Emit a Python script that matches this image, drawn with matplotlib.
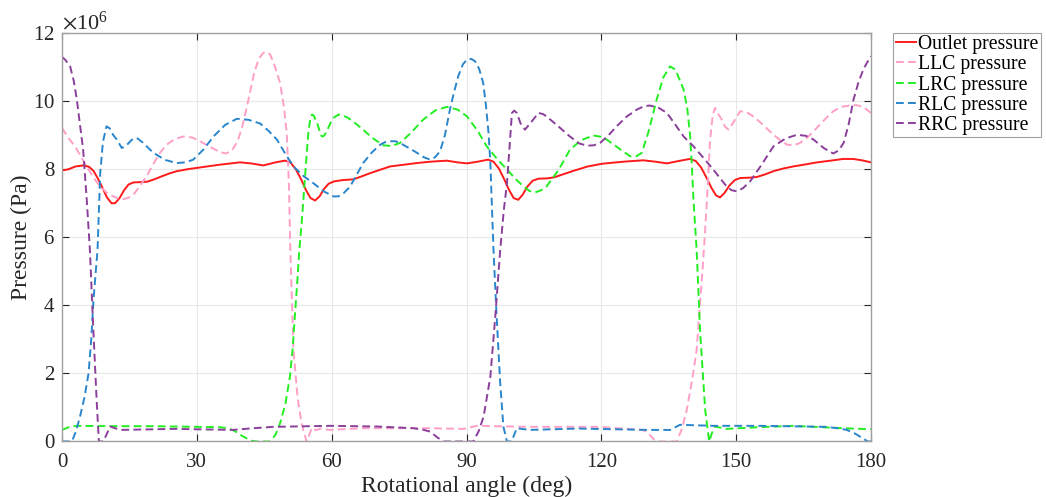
import matplotlib
matplotlib.use('Agg')
import matplotlib.pyplot as plt
from matplotlib.ticker import ScalarFormatter

plt.rcParams['font.family'] = ['Liberation Serif', 'DejaVu Serif']
plt.rcParams['mathtext.fontset'] = 'stix'

# pressure curves, angle in deg, pressure in MPa (scaled to Pa below)
outlet_deg = [0, 1.5, 3, 4.7, 6, 7, 8, 9, 10, 11, 11.8, 12.8, 13.8, 14.8, 15.9, 17.5, 18.9, 20.5, 22,
              23.8, 25.5, 28, 30.7, 35, 39.6, 42, 44.8, 47.5, 49.6, 50.8, 52, 53.2, 54.3, 55.3, 56.3,
              57.3, 58.3, 59.3, 60.5, 62.5, 64.8, 66.5, 68.5, 70.5, 73, 76, 79, 82, 85.6, 88, 90.1,
              92.5, 94.8, 96, 97.2, 98.4, 99.5, 100.5, 101.5, 102.5, 103.5, 104.7, 106, 108, 109.5,
              111.5, 114, 117, 120.2, 125, 129.3, 132, 134.6, 137.2, 139.7, 141, 142.2, 143.4, 144.5,
              145.5, 146.4, 147.4, 148.5, 149.7, 150.9, 153, 154.6, 156.5, 158.5, 160.5, 162.7, 165,
              168, 171, 173.8, 176, 178, 180]
outlet_p = [7.96, 8.0, 8.08, 8.11, 8.07, 7.95, 7.72, 7.45, 7.17, 7.0, 7.0, 7.15, 7.38, 7.55, 7.61, 7.62,
            7.63, 7.7, 7.78, 7.87, 7.94, 8.0, 8.05, 8.13, 8.2, 8.17, 8.11, 8.2, 8.25, 8.2, 8.0, 7.7, 7.38,
            7.15, 7.08, 7.2, 7.42, 7.57, 7.64, 7.68, 7.7, 7.78, 7.88, 7.97, 8.08, 8.13, 8.18, 8.22, 8.25,
            8.2, 8.17, 8.22, 8.28, 8.22, 8.02, 7.7, 7.38, 7.15, 7.1, 7.25, 7.48, 7.66, 7.72, 7.73, 7.76,
            7.85, 7.96, 8.08, 8.16, 8.22, 8.26, 8.22, 8.17, 8.24, 8.3, 8.24, 8.05, 7.75, 7.45, 7.23,
            7.17, 7.3, 7.52, 7.68, 7.74, 7.75, 7.77, 7.85, 7.95, 8.02, 8.08, 8.13, 8.2, 8.25, 8.3, 8.3,
            8.26, 8.2]

llc_deg = [0, 1.5, 2.9, 4.2, 5.5, 7, 8.5, 10, 11.4, 12.5, 13.6, 14.8, 15.9, 17.3, 18.8, 20.3, 21.8,
           23.3, 25, 27, 29, 30.7, 33, 35.2, 36.5, 37.8, 39, 40, 41, 41.8, 42.8, 43.8, 44.8, 45.6,
           46.3, 47.3, 48.5, 49.3, 50, 50.5, 50.8, 51.5, 52.4, 53.3, 54.4, 55.6, 56.5, 57.5, 59.6, 67,
           81.5, 89.3, 92.3, 104, 119, 129.3, 130.7, 131.8, 132.7, 136.8, 138, 139, 140.2, 141.2,
           142.3, 143, 143.5, 144.2, 144.8, 145.3, 146, 146.8, 147.5, 148.3, 149.5, 150.9, 152.3,
           153.8, 155.6, 157.5, 159.5, 161.3, 162.8, 164.2, 166, 167.9, 169.8, 171.6, 173.4, 175.3,
           176.8, 178.3, 180]
llc_p = [9.21, 8.9, 8.67, 8.37, 8.08, 7.75, 7.49, 7.3, 7.2, 7.14, 7.12, 7.16, 7.25, 7.5, 7.79, 8.15,
         8.48, 8.72, 8.88, 8.96, 8.93, 8.82, 8.65, 8.5, 8.46, 8.55, 8.8, 9.2, 9.75, 10.24, 10.85, 11.25,
         11.42, 11.44, 11.37, 11.05, 10.54, 9.9, 9.06, 7.5, 5.6, 2.69, 1.3, 0.53, 0.0, 0.4, 0.33, 0.38,
         0.34, 0.39, 0.39, 0.37, 0.46, 0.43, 0.43, 0.34, 0.2, 0.05, 0.0, 0.0, 0.4, 0.93, 1.8, 2.69,
         4.65, 6.0, 7.1, 8.87, 9.6, 9.8, 9.62, 9.46, 9.25, 9.16, 9.4, 9.7, 9.68, 9.55, 9.35, 9.11,
         8.88, 8.72, 8.7, 8.77, 8.95, 9.21, 9.47, 9.7, 9.83, 9.87, 9.88, 9.83, 9.65]

lrc_deg = [0, 1.5, 3.3, 10, 20, 30, 35, 37, 38.5, 40, 41.1, 42.2, 43.3, 46.3, 47.5, 48.5, 49.7, 50.7,
           51.3, 51.8, 52.3, 52.8, 53.3, 53.7, 54.3, 54.8, 55.2, 55.6, 56, 56.4, 56.9, 57.4, 57.8,
           58.3, 58.9, 59.7, 60.5, 61.5, 62.5, 63.7, 64.8, 66, 67, 69, 71.5, 73.3, 75.2, 77.5, 80.4,
           83, 85.6, 88, 90.1, 92.5, 94.5, 96.8, 99, 101, 102.7, 104, 105.3, 106.6, 107.8, 110.5, 113,
           115.5, 118.2, 120, 121.2, 123.8, 126.4, 127.8, 129, 130.5, 132.3, 133.8, 135.3, 136.5,
           137.5, 138.3, 139.1, 139.7, 140.1, 140.5, 141.2, 142, 143.1, 144, 144.6, 145.3, 147.9, 155,
           162.7, 173.8, 180]
lrc_p = [0.34, 0.42, 0.46, 0.45, 0.45, 0.43, 0.42, 0.39, 0.3, 0.17, 0.09, 0.02, 0.0, 0.0, 0.2, 0.53,
         1.1, 1.9, 2.7, 3.67, 4.6, 5.63, 6.4, 7.1, 8.2, 9.06, 9.45, 9.6, 9.58, 9.45, 9.3, 9.08, 8.96,
         8.98, 9.11, 9.35, 9.52, 9.6, 9.58, 9.5, 9.4, 9.27, 9.16, 8.92, 8.7, 8.68, 8.77, 9.05, 9.46,
         9.72, 9.83, 9.75, 9.55, 9.12, 8.67, 8.3, 7.99, 7.7, 7.49, 7.36, 7.32, 7.38, 7.49, 7.98, 8.57,
         8.85, 8.99, 8.95, 8.87, 8.62, 8.38, 8.38, 8.48, 9.1, 10.04, 10.7, 11.02, 10.92, 10.6, 10.34,
         9.8, 9.06, 8.2, 7.1, 5.63, 3.18, 0.93, 0.0, 0.25, 0.44, 0.37, 0.42, 0.46, 0.39, 0.36]

rlc_deg = [0, 2.2, 3.1, 4, 5, 5.9, 6.5, 7, 7.9, 8.5, 9.1, 9.9, 10.6, 11.4, 12.2, 13.3, 14.5, 15.5,
           16.6, 18, 20.3, 23, 25.5, 27.5, 29.2, 31.5, 33.7, 36.3, 38.9, 41.5, 44.1, 46, 47.8, 49.7,
           51.5, 53.7, 55.9, 58.2, 60.4, 61.5, 62.7, 64.1, 65.5, 67, 69, 70.8, 72, 73, 74.2, 75.2,
           78.5, 80.5, 81.9, 83, 84.1, 85.2, 86.3, 87.3, 88.2, 89.2, 90.1, 91, 91.9, 92.8, 93.7, 94.3,
           94.9, 95.3, 95.6, 96, 96.7, 97.5, 98.2, 99, 100, 101.2, 104, 115, 130.1, 135.3, 137.5, 145,
           155.3, 170.2, 173, 174.6, 176.2, 177.6, 179.3, 180]
rlc_p = [0.0, 0.0, 0.3, 0.73, 1.3, 2.0, 3.0, 4.16, 5.63, 7.89, 8.8, 9.26, 9.2, 9.0, 8.87, 8.62, 8.72,
         8.86, 8.92, 8.78, 8.48, 8.27, 8.18, 8.2, 8.28, 8.58, 8.96, 9.3, 9.48, 9.45, 9.34, 9.12, 8.87,
         8.45, 8.08, 7.8, 7.59, 7.35, 7.2, 7.2, 7.3, 7.49, 7.82, 8.18, 8.5, 8.72, 8.8, 8.82, 8.82, 8.77,
         8.52, 8.35, 8.28, 8.35, 8.52, 9.0, 9.75, 10.3, 10.75, 11.08, 11.22, 11.24, 11.17, 10.95, 10.54,
         9.9, 9.06, 8.2, 7.1, 5.63, 3.67, 1.71, 0.44, 0.0, 0.0, 0.39, 0.34, 0.38, 0.34, 0.34, 0.49,
         0.46, 0.46, 0.43, 0.38, 0.34, 0.25, 0.14, 0.0, 0.0]

rrc_deg = [0, 0.8, 1.8, 2.6, 3.3, 4, 4.7, 5.5, 6.2, 7, 7.7, 8.2, 9.2, 10.7, 12.9, 25, 38, 42.6, 47,
           59.6, 70, 78.2, 80.5, 81.9, 83.5, 84.9, 91.5, 92.7, 93.8, 95.3, 96.4, 97.5, 98.3, 99, 99.6,
           100.1, 100.6, 101.2, 102, 103, 104.5, 106, 107, 107.8, 110.5, 113, 115, 116.8, 118.3,
           119.7, 121.5, 123.4, 125.7, 127.9, 129.5, 130.8, 132.8, 134.6, 136.5, 138.3, 140.5, 142.8,
           144.9, 146.5, 147.9, 149, 150.1, 151.5, 153.1, 155.5, 158.3, 161, 163.5, 165.5, 167.2,
           169.5, 171.6, 172.8, 173.9, 175, 176.1, 177.2, 178.3, 179.2, 180]
rrc_p = [11.3, 11.2, 11.02, 10.6, 10.04, 9.3, 8.57, 7.1, 5.63, 3.18, 1.22, 0.0, 0.0, 0.44, 0.34, 0.37,
         0.34, 0.39, 0.43, 0.46, 0.44, 0.39, 0.34, 0.29, 0.12, 0.0, 0.0, 0.3, 0.73, 1.9, 3.67, 5.63,
         6.8, 7.59, 8.7, 9.65, 9.72, 9.65, 9.35, 9.16, 9.4, 9.65, 9.62, 9.55, 9.25, 8.96, 8.76, 8.69,
         8.7, 8.77, 8.98, 9.26, 9.55, 9.75, 9.85, 9.87, 9.8, 9.65, 9.3, 8.96, 8.67, 8.32, 7.99, 7.72,
         7.49, 7.38, 7.35, 7.44, 7.64, 8.1, 8.67, 8.9, 9.01, 8.98, 8.87, 8.62, 8.46, 8.55, 8.77, 9.3,
         10.04, 10.55, 10.93, 11.15, 11.32]

x_ticks = [0, 30, 60, 90, 120, 150, 180]
y_ticks = [0, 2e6, 4e6, 6e6, 8e6, 10e6, 12e6]

fig = plt.figure(figsize=(10.46, 4.97), dpi=100)
ax = fig.add_axes([0.0593, 0.1117, 0.7734, 0.8219])

mpa = 1e6
dash = (4, 2.2)
ax.plot(outlet_deg, [v * mpa for v in outlet_p], '-', color='#ff1a1a', lw=1.4, label='Outlet pressure')
ax.plot(llc_deg, [v * mpa for v in llc_p], '--', dashes=dash, color='#ff9fc8', lw=1.4, label='LLC pressure')
ax.plot(lrc_deg, [v * mpa for v in lrc_p], '--', dashes=dash, color='#22ee22', lw=1.4, label='LRC pressure')
ax.plot(rlc_deg, [v * mpa for v in rlc_p], '--', dashes=dash, color='#2a86cc', lw=1.4, label='RLC pressure')
ax.plot(rrc_deg, [v * mpa for v in rrc_p], '--', dashes=dash, color='#8a3f9a', lw=1.4, label='RRC pressure')

ax.set_xlim(0, 180)
ax.set_ylim(0, 12e6)
ax.set_xticks(x_ticks)
ax.set_yticks(y_ticks)
fmt = ScalarFormatter(useMathText=True)
fmt.set_powerlimits((6, 6))
ax.yaxis.set_major_formatter(fmt)
ax.yaxis.get_offset_text().set_fontsize(16)
ax.yaxis.get_offset_text().set_color('#262626')

ax.grid(True, color='#e8e8e8', lw=0.8)
ax.set_axisbelow(True)
ax.tick_params(direction='in', top=True, right=True, labelsize=15, colors='#262626',
               length=5, width=0.8)
ax.tick_params(axis='x', pad=8)
ax.tick_params(axis='y', pad=5)
for sp in ax.spines.values():
    sp.set_color('#a0a0a0')
    sp.set_linewidth(1.0)

ax.set_xlabel('Rotational angle (deg)', fontsize=17, color='#262626', labelpad=3)
ax.set_ylabel('Pressure (Pa)', fontsize=17, color='#262626', labelpad=1)

leg = fig.legend(loc='upper left', bbox_to_anchor=(0.854, 0.934), borderaxespad=0, fontsize=14.2,
                 handlelength=1.05, handletextpad=0.08, borderpad=0.12, labelspacing=0.06,
                 fancybox=False, edgecolor='#a0a0a0', framealpha=1)
leg.get_frame().set_linewidth(0.8)

fig.savefig('out.png', dpi=100)
